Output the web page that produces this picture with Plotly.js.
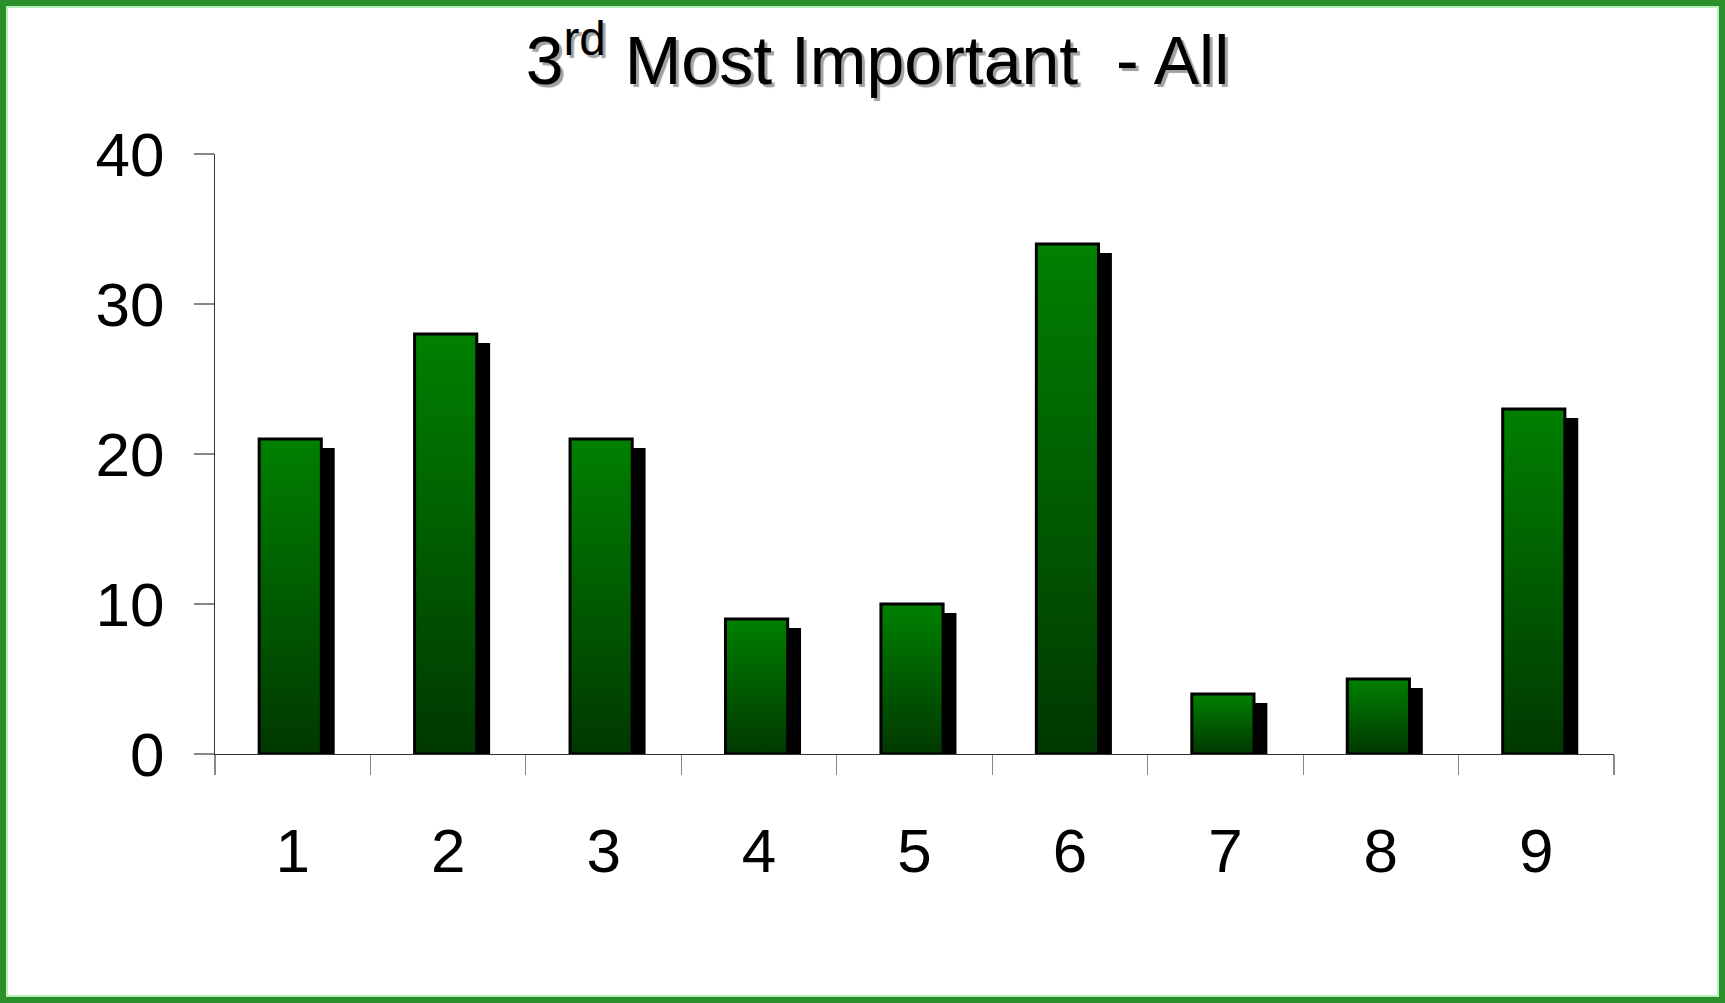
<!DOCTYPE html>
<html>
<head>
<meta charset="utf-8">
<script src="https://cdn.plot.ly/plotly-3.0.1.min.js"></script>
<style>
  html, body { margin: 0; padding: 0; background: #ffffff; }
  #wrap { position: relative; width: 1725px; height: 1003px; }
  #chart { position: absolute; left: 0; top: 0; width: 1725px; height: 1003px; }
  #frame {
    position: absolute; left: 0; top: 0; width: 1725px; height: 1003px;
    box-sizing: border-box; border: 6px solid #2b8f2b;
    box-shadow: inset 0 0 0 2px #b9efb9;
    pointer-events: none;
  }
</style>
</head>
<body>
<div id="wrap">
  <div id="chart"></div>
  <div id="frame"></div>
</div>
<script>
// ---- data ----
const categories = ["1", "2", "3", "4", "5", "6", "7", "8", "9"];
const values = [21, 28, 21, 9, 10, 34, 4, 5, 23];
const yTickValues = [0, 10, 20, 30, 40];
const yTickLabels = ["0", "10", "20", "30", "40"];
const chartTitle = "3<sup>rd</sup> Most Important &nbsp;- All";

const FONT = '"Liberation Sans", Arial, sans-serif';

const shadowTrace = {
  type: "bar",
  x: categories,
  y: values,
  base: -0.6,
  width: 0.4,
  offset: -0.13,
  marker: { color: "#000000", line: { width: 0 } },
  hoverinfo: "skip",
  showlegend: false
};

const mainTrace = {
  type: "bar",
  x: categories,
  y: values,
  width: 0.4,
  offset: -0.216,
  marker: { color: "#006400", line: { color: "#000000", width: 3 } },
  showlegend: false
};

const layout = {
  width: 1725,
  height: 1003,
  paper_bgcolor: "#ffffff",
  plot_bgcolor: "#ffffff",
  barmode: "overlay",
  margin: { l: 214.5, r: 111, t: 154, b: 249.4, pad: 0 },
  title: {
    text: chartTitle,
    x: 0.5087,
    xanchor: "center",
    xref: "container",
    y: 0.94,
    yanchor: "middle",
    yref: "container",
    font: { family: FONT, size: 68, color: "#000000", shadow: "3px 3px 1px #a0a0a0" }
  },
  font: { family: FONT, color: "#000000" },
  xaxis: {
    type: "category",
    showline: true,
    linecolor: "#333333",
    linewidth: 1.2,
    ticks: "outside",
    tickson: "boundaries",
    ticklen: 20,
    tickwidth: 1.2,
    tickcolor: "#888888",
    tickfont: { family: FONT, size: 62, color: "#000000" },
    ticklabelstandoff: 42,
    showgrid: false,
    zeroline: false,
    fixedrange: true
  },
  yaxis: {
    range: [0, 40],
    tickvals: yTickValues,
    ticktext: yTickLabels,
    showline: true,
    linecolor: "#333333",
    linewidth: 1.2,
    ticks: "outside",
    ticklen: 20,
    tickwidth: 1.2,
    tickcolor: "#888888",
    tickfont: { family: FONT, size: 62, color: "#000000" },
    ticklabelstandoff: 17,
    showgrid: false,
    zeroline: false,
    fixedrange: true
  }
};

Plotly.newPlot("chart", [shadowTrace, mainTrace], layout, { staticPlot: true, displayModeBar: false }).then(function (gd) {
  // vertical green gradient for the main bars
  const svg = gd.querySelector("svg.main-svg");
  const ns = "http://www.w3.org/2000/svg";
  let defs = svg.querySelector("defs");
  if (!defs) { defs = document.createElementNS(ns, "defs"); svg.insertBefore(defs, svg.firstChild); }
  const grad = document.createElementNS(ns, "linearGradient");
  grad.setAttribute("id", "barGrad");
  grad.setAttribute("x1", "0"); grad.setAttribute("y1", "0");
  grad.setAttribute("x2", "0"); grad.setAttribute("y2", "1");
  [["0", "#008000"], ["1", "#003800"]].forEach(function (s) {
    const stop = document.createElementNS(ns, "stop");
    stop.setAttribute("offset", s[0]);
    stop.setAttribute("stop-color", s[1]);
    grad.appendChild(stop);
  });
  defs.appendChild(grad);
  const traces = gd.querySelectorAll(".barlayer .trace");
  const mainPaths = traces[traces.length - 1].querySelectorAll(".point path");
  mainPaths.forEach(function (p) { p.style.fill = "url(#barGrad)"; });
});
</script>
</body>
</html>
